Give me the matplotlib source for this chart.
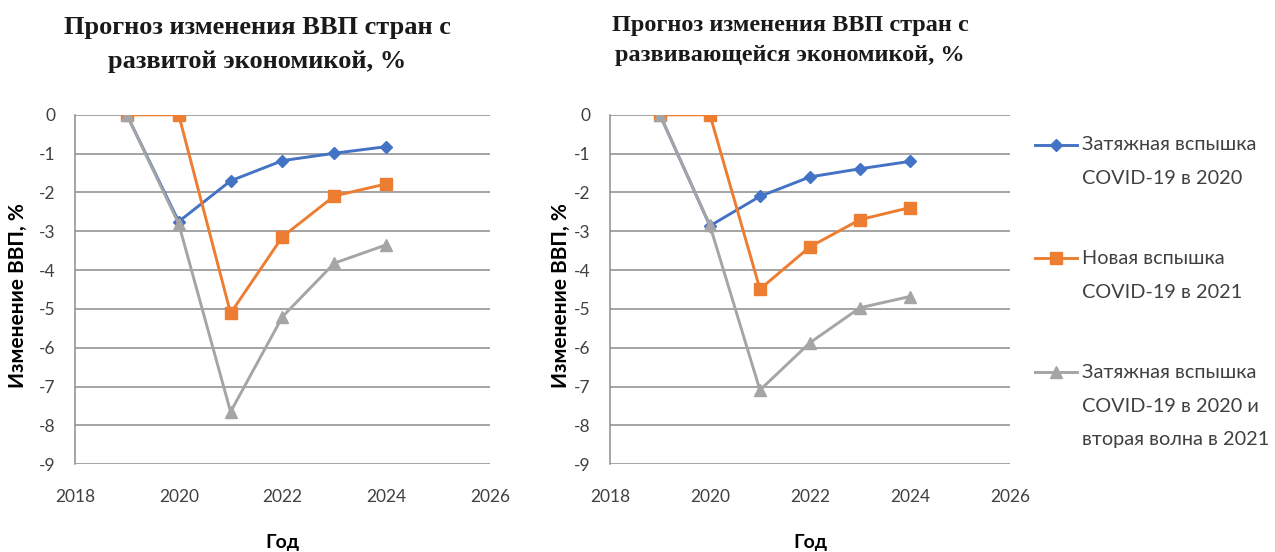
import matplotlib
matplotlib.use("Agg")
import matplotlib.pyplot as plt
from matplotlib.lines import Line2D

plt.rcParams['axes.unicode_minus'] = False

years = [2019, 2020, 2021, 2022, 2023, 2024]

# Developed economies
dev_prolonged = [0, -2.75, -1.70, -1.18, -0.99, -0.82]
dev_new2021 = [0, 0, -5.11, -3.14, -2.09, -1.78]
dev_second = [0, -2.81, -7.65, -5.20, -3.82, -3.35]

# Developing economies
emg_prolonged = [0, -2.86, -2.10, -1.60, -1.39, -1.20]
emg_new2021 = [0, 0, -4.49, -3.40, -2.70, -2.39]
emg_second = [0, -2.85, -7.09, -5.87, -4.97, -4.68]

series_labels = ["Затяжная вспышка\nCOVID-19 в 2020",
                 "Новая вспышка\nCOVID-19 в 2021",
                 "Затяжная вспышка\nCOVID-19 в 2020 и\nвторая волна в 2021"]
titles = ["Прогноз изменения ВВП стран с\nразвитой экономикой, %",
          "Прогноз изменения ВВП стран с\nразвивающейся экономикой, %"]
y_ticks = [0, -1, -2, -3, -4, -5, -6, -7, -8, -9]
x_ticks = [2018, 2020, 2022, 2024, 2026]
ylabel = "Изменение ВВП, %"
xlabel = "Год"

colors = ["#4472C4", "#ED7D31", "#A5A5A5"]
markers = ["D", "s", "^"]
msizes = [6.5, 8, 8]

W, H = 1275, 552
fig = plt.figure(figsize=(W / 100, H / 100), dpi=100)
axes_pos = [[0.0588, 0.159, 0.3255, 0.633], [0.4784, 0.159, 0.3137, 0.633]]
ylabel_x = [-0.113, -0.0975]
title_cx = [257, 790]
title_cy = [44.5, 40.5]
title_fs = [19, 17.5]
title_ls = [1.6, 1.52]
data = [[dev_prolonged, dev_new2021, dev_second],
        [emg_prolonged, emg_new2021, emg_second]]

tickfont = dict(family="Lato", size=12.5, color="#404040")
for i in range(2):
    ax = fig.add_axes(axes_pos[i])
    for j, ser in enumerate(data[i]):
        ax.plot(years, ser, color=colors[j], marker=markers[j], ms=msizes[j],
                lw=2.1, zorder=3 + j)
    ax.set_xlim(2018, 2026)
    ax.set_ylim(-9, 0)
    ax.set_xticks(x_ticks)
    ax.set_yticks(y_ticks)
    ax.set_xticklabels([str(v) for v in x_ticks], **tickfont)
    ax.set_yticklabels([str(v) for v in y_ticks], **tickfont)
    ax.tick_params(axis='both', length=0)
    ax.tick_params(axis='y', pad=14)
    ax.tick_params(axis='x', pad=18)
    ax.yaxis.grid(True, color="#8c8c8c", lw=1.1)
    ax.set_axisbelow(True)
    for s in ["top", "right", "bottom"]:
        ax.spines[s].set_visible(False)
    ax.spines["left"].set_color("#8c8c8c")
    ax.spines["left"].set_linewidth(1.1)
    ax.set_ylabel(ylabel, family="Lato", fontweight="bold", fontsize=15)
    ax.yaxis.set_label_coords(ylabel_x[i], 0.484)
    ax.set_xlabel(xlabel, family="Lato", fontweight="bold", fontsize=14, labelpad=21)
    fig.text(title_cx[i] / W, 1 - title_cy[i] / H, titles[i], family="Liberation Serif",
             fontweight="bold", fontsize=title_fs[i], ha="center", va="center",
             multialignment="center", linespacing=title_ls[i], color="#1a1a1a")

# manual legend (handle aligned with the first line of each entry)
first_line_px = [145, 258, 372]
line_step_px = 34
for j, lab in enumerate(series_labels):
    yc = 1 - first_line_px[j] / H
    fig.add_artist(Line2D([1035 / W, 1077 / W], [yc, yc], color=colors[j], lw=2.1,
                          transform=fig.transFigure))
    fig.add_artist(Line2D([1056 / W], [yc], color=colors[j], marker=markers[j],
                          ms=msizes[j], transform=fig.transFigure))
    for k, line in enumerate(lab.split("\n")):
        fig.text(1082 / W, 1 - (first_line_px[j] + k * line_step_px) / H, line,
                 family="Lato", fontsize=14.3, color="#404040", va="center", ha="left")

fig.savefig("out.png", dpi=100, facecolor="white")
